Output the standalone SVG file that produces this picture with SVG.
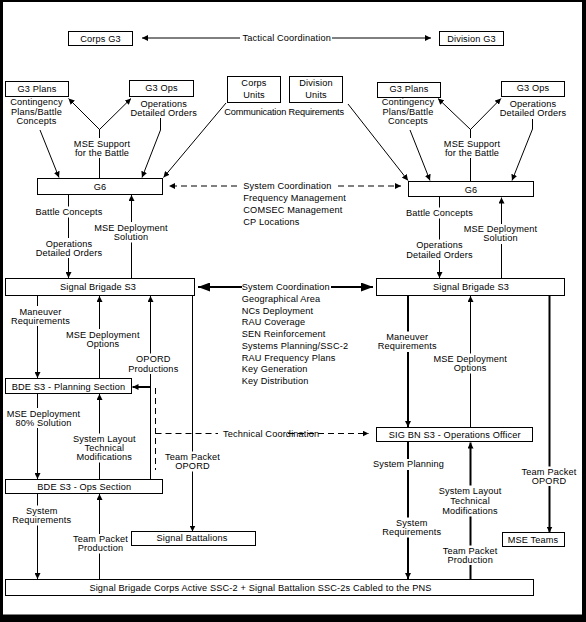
<svg xmlns="http://www.w3.org/2000/svg" width="586" height="622" viewBox="0 0 586 622">
<style>
text{font-family:"Liberation Sans",Arial,Helvetica,sans-serif;font-size:9.2px;letter-spacing:0.15px;fill:#000}
.c{text-anchor:middle}
.n rect{fill:#fff;stroke:#000;stroke-width:1}
.l{stroke:#000;stroke-width:1;fill:none}
.t{stroke-width:2}
.d{stroke-dasharray:6 4}
.w{fill:#fff;stroke:none}
</style>
<defs>
<marker id="a" viewBox="0 0 6 6" markerWidth="6" markerHeight="6" refX="6" refY="3" orient="auto" markerUnits="userSpaceOnUse"><path d="M0,0 L6,3 L0,6 z" fill="#000"/></marker>
<marker id="b" viewBox="0 0 12 9" markerWidth="12" markerHeight="9" refX="12" refY="4.5" orient="auto" markerUnits="userSpaceOnUse"><path d="M0,0 L12,4.5 L0,9 z" fill="#000"/></marker>
</defs>
<rect x="0" y="0" width="586" height="622" fill="#000"/>
<rect x="3" y="2" width="579" height="612.5" fill="#fff"/>

<g id="connectors">
<line class="l" x1="240" y1="38" x2="142" y2="38" marker-end="url(#a)"/>
<line class="l" x1="332" y1="38" x2="431" y2="38" marker-end="url(#a)"/>
<line class="l" x1="40" y1="130" x2="59" y2="177.5" marker-end="url(#a)"/>
<line class="l" x1="99.5" y1="178" x2="99.5" y2="129"/>
<line class="l" x1="99.5" y1="129.5" x2="68.5" y2="98.5" marker-end="url(#a)"/>
<line class="l" x1="99.5" y1="129.5" x2="131" y2="98.5" marker-end="url(#a)"/>
<polyline class="l" points="160.5,118 160.5,130 142,177.5" marker-end="url(#a)"/>
<line class="l" x1="226" y1="103" x2="163.5" y2="177.5" marker-end="url(#a)"/>
<line class="l" x1="348" y1="104" x2="408" y2="180.5" marker-end="url(#a)"/>
<line class="l" x1="410" y1="130" x2="430" y2="180.5" marker-end="url(#a)"/>
<line class="l" x1="470.5" y1="181" x2="470.5" y2="129"/>
<line class="l" x1="470.5" y1="129.5" x2="438" y2="98.5" marker-end="url(#a)"/>
<line class="l" x1="470.5" y1="129.5" x2="501" y2="98.5" marker-end="url(#a)"/>
<polyline class="l" points="532.5,119 532.5,129 512,180.5" marker-end="url(#a)"/>
<line class="l d" x1="237" y1="186" x2="169" y2="186" marker-end="url(#a)"/>
<line class="l d" x1="338" y1="186" x2="401" y2="186" marker-end="url(#a)"/>
<line class="l" x1="68.5" y1="195" x2="68.5" y2="278" marker-end="url(#a)"/>
<line class="l" x1="131.5" y1="278" x2="131.5" y2="195" marker-end="url(#a)"/>
<line class="l" x1="439.5" y1="197" x2="439.5" y2="278" marker-end="url(#a)"/>
<line class="l" x1="501.5" y1="278" x2="501.5" y2="197.5" marker-end="url(#a)"/>
<line class="l t" x1="242" y1="287" x2="198" y2="287" marker-end="url(#b)"/>
<line class="l t" x1="331" y1="287" x2="373" y2="287" marker-end="url(#b)"/>
<line class="l" x1="37.5" y1="296" x2="37.5" y2="378" marker-end="url(#a)"/>
<line class="l" x1="99.5" y1="378" x2="99.5" y2="296" marker-end="url(#a)"/>
<line class="l" x1="150.5" y1="479" x2="150.5" y2="296" marker-end="url(#a)"/>
<line class="l t" x1="150" y1="387" x2="132.5" y2="387" marker-end="url(#a)"/>
<line class="l" x1="192.5" y1="296" x2="192.5" y2="531.5" marker-end="url(#a)"/>
<line class="l d" x1="155.5" y1="388" x2="155.5" y2="470"/>
<line class="l d" x1="155.5" y1="433.5" x2="218" y2="433.5"/>
<line class="l d" x1="288" y1="433.5" x2="368.5" y2="433.5" marker-end="url(#a)"/>
<line class="l" x1="37.5" y1="394" x2="37.5" y2="479" marker-end="url(#a)"/>
<line class="l" x1="99.5" y1="479" x2="99.5" y2="394" marker-end="url(#a)"/>
<line class="l" x1="37.5" y1="494" x2="37.5" y2="579" marker-end="url(#a)"/>
<line class="l" x1="99.5" y1="579" x2="99.5" y2="494" marker-end="url(#a)"/>
<line class="l t" x1="408" y1="296" x2="408" y2="427" marker-end="url(#a)"/>
<line class="l" x1="470.5" y1="427" x2="470.5" y2="296" marker-end="url(#a)"/>
<line class="l t" x1="549.5" y1="296" x2="549.5" y2="532.5" marker-end="url(#a)"/>
<line class="l t" x1="408" y1="442" x2="408" y2="579" marker-end="url(#a)"/>
<line class="l t" x1="470.5" y1="579" x2="470.5" y2="442.5" marker-end="url(#a)"/>
<!-- gaps where labels sit on lines -->
<rect class="w" x="96" y="138" width="7" height="20"/>
<rect class="w" x="467" y="138" width="7" height="20"/>
<rect class="w" x="65" y="206.5" width="7" height="11"/>
<rect class="w" x="65" y="238" width="7" height="20"/>
<rect class="w" x="128" y="222" width="7" height="20.5"/>
<rect class="w" x="436" y="207.5" width="7" height="11"/>
<rect class="w" x="436" y="239.5" width="7" height="20.5"/>
<rect class="w" x="498" y="224" width="7" height="20"/>
<rect class="w" x="34" y="306" width="7" height="20"/>
<rect class="w" x="96" y="329" width="7" height="20"/>
<rect class="w" x="147" y="353.5" width="7" height="20.5"/>
<rect class="w" x="34" y="408" width="7" height="20"/>
<rect class="w" x="96" y="433.5" width="7" height="29"/>
<rect class="w" x="189" y="451.5" width="7" height="20"/>
<rect class="w" x="34" y="505.5" width="7" height="20"/>
<rect class="w" x="96" y="534" width="7" height="19.5"/>
<rect class="w" x="404" y="331.5" width="8" height="20.5"/>
<rect class="w" x="467" y="353.5" width="7" height="20"/>
<rect class="w" x="404" y="459" width="8" height="11"/>
<rect class="w" x="545.5" y="466.5" width="8" height="19.5"/>
<rect class="w" x="466.5" y="485.5" width="8" height="31"/>
<rect class="w" x="404" y="517.5" width="8" height="20"/>
<rect class="w" x="466.5" y="545.5" width="8" height="19.5"/>
</g>

<g id="labels">
<text x="242.5" y="41.3">Tactical Coordination</text>
<text class="c" x="36.5" y="105">Contingency</text>
<text class="c" x="36.5" y="114.5">Plans/Battle</text>
<text class="c" x="36.5" y="124">Concepts</text>
<text class="c" x="408" y="105">Contingency</text>
<text class="c" x="408" y="114.5">Plans/Battle</text>
<text class="c" x="408" y="124">Concepts</text>
<text class="c" x="163.7" y="106.8">Operations</text>
<text class="c" x="163.7" y="116">Detailed Orders</text>
<text class="c" x="533" y="107.4">Operations</text>
<text class="c" x="533" y="116.4">Detailed Orders</text>
<text x="224.3" y="115" style="letter-spacing:-0.15px">Communication Requirements</text>
<text class="c" x="102" y="146.7">MSE Support</text>
<text class="c" x="102" y="155.7">for the Battle</text>
<text class="c" x="472" y="146.7">MSE Support</text>
<text class="c" x="472" y="155.7">for the Battle</text>
<text x="243.3" y="189">System Coordination</text>
<text x="243.3" y="200.8">Frequency Management</text>
<text x="243.3" y="212.8">COMSEC Management</text>
<text x="243.3" y="225">CP Locations</text>
<text class="c" x="69" y="215">Battle Concepts</text>
<text class="c" x="69" y="246.7">Operations</text>
<text class="c" x="69" y="255.7">Detailed Orders</text>
<text class="c" x="131" y="230.7">MSE Deployment</text>
<text class="c" x="131" y="240">Solution</text>
<text class="c" x="439.5" y="216">Battle Concepts</text>
<text class="c" x="439.5" y="248.4">Operations</text>
<text class="c" x="439.5" y="257.7">Detailed Orders</text>
<text class="c" x="500.5" y="232.2">MSE Deployment</text>
<text class="c" x="500.5" y="241.2">Solution</text>
<text x="241.7" y="290">System Coordination</text>
<text x="241.7" y="301.75">Geographical Area</text>
<text x="241.7" y="313.5">NCs Deployment</text>
<text x="241.7" y="325.25">RAU Coverage</text>
<text x="241.7" y="337">SEN Reinforcement</text>
<text x="241.7" y="348.75">Systems Planning/SSC-2</text>
<text x="241.7" y="360.5">RAU Frequency Plans</text>
<text x="241.7" y="372.25">Key Generation</text>
<text x="241.7" y="384">Key Distribution</text>
<text class="c" x="40.5" y="314.8">Maneuver</text>
<text class="c" x="40.5" y="323.5">Requirements</text>
<text class="c" x="102.8" y="337.7">MSE Deployment</text>
<text class="c" x="102.8" y="346.7">Options</text>
<text class="c" x="153.3" y="362.2">OPORD</text>
<text class="c" x="153.3" y="371.5">Productions</text>
<text class="c" x="43.5" y="416.5">MSE Deployment</text>
<text class="c" x="43.5" y="425.5">80% Solution</text>
<text class="c" x="104.3" y="442">System Layout</text>
<text class="c" x="104.3" y="451">Technical</text>
<text class="c" x="104.3" y="460">Modifications</text>
<text x="223" y="436.8">Technical Coordination</text>
<text class="c" x="192.5" y="460">Team Packet</text>
<text class="c" x="192.5" y="469">OPORD</text>
<text class="c" x="41.8" y="514">System</text>
<text class="c" x="41.8" y="523">Requirements</text>
<text class="c" x="100.5" y="542.4">Team Packet</text>
<text class="c" x="100.5" y="551">Production</text>
<text class="c" x="407.2" y="340">Maneuver</text>
<text class="c" x="407.2" y="349.4">Requirements</text>
<text class="c" x="470.2" y="362">MSE Deployment</text>
<text class="c" x="470.2" y="371.2">Options</text>
<text class="c" x="408.5" y="467.4">System Planning</text>
<text class="c" x="549" y="475">Team Packet</text>
<text class="c" x="549" y="483.6">OPORD</text>
<text class="c" x="470" y="494">System Layout</text>
<text class="c" x="470" y="504">Technical</text>
<text class="c" x="470" y="514">Modifications</text>
<text class="c" x="411.8" y="526">System</text>
<text class="c" x="411.8" y="535">Requirements</text>
<text class="c" x="470.2" y="554">Team Packet</text>
<text class="c" x="470.2" y="562.6">Production</text>
</g>

<g id="corps-g3" class="n"><rect x="68.5" y="31.5" width="64" height="14"/><text class="c" x="100.5" y="41.7">Corps G3</text></g>
<g id="division-g3" class="n"><rect x="439.5" y="31.5" width="64" height="14"/><text class="c" x="471.5" y="41.7">Division G3</text></g>
<g id="g3-plans-left" class="n"><rect x="5.5" y="81.5" width="63" height="15"/><text class="c" x="37" y="92">G3 Plans</text></g>
<g id="g3-ops-left" class="n"><rect x="129.5" y="80.5" width="64" height="16"/><text class="c" x="161.5" y="91.3">G3 Ops</text></g>
<g id="corps-units" class="n"><rect x="227.5" y="76.5" width="53" height="26"/><text class="c" x="254" y="86">Corps</text><text class="c" x="254" y="98">Units</text></g>
<g id="division-units" class="n"><rect x="289.5" y="76.5" width="53" height="26"/><text class="c" x="316" y="86">Division</text><text class="c" x="316" y="98">Units</text></g>
<g id="g3-plans-right" class="n"><rect x="377.5" y="82.5" width="63" height="15"/><text class="c" x="409" y="92.3">G3 Plans</text></g>
<g id="g3-ops-right" class="n"><rect x="501.5" y="81.5" width="63" height="15"/><text class="c" x="533" y="91.3">G3 Ops</text></g>
<g id="g6-left" class="n"><rect x="37.5" y="178.5" width="125" height="16"/><text class="c" x="100" y="189.6">G6</text></g>
<g id="g6-right" class="n"><rect x="408.5" y="181.5" width="125" height="15"/><text class="c" x="471" y="192.5">G6</text></g>
<g id="signal-brigade-s3-left" class="n"><rect x="5.5" y="278.5" width="189" height="17"/><text class="c" x="98" y="290.2">Signal Brigade S3</text></g>
<g id="signal-brigade-s3-right" class="n"><rect x="376.5" y="278.5" width="188" height="17"/><text class="c" x="471" y="290.2">Signal Brigade S3</text></g>
<g id="bde-s3-planning" class="n"><rect x="5.5" y="378.5" width="126" height="15"/><text class="c" x="68.5" y="389.5">BDE S3 - Planning Section</text></g>
<g id="bde-s3-ops" class="n"><rect x="5.5" y="479.5" width="157" height="14"/><text class="c" x="84.3" y="489.5">BDE S3 - Ops Section</text></g>
<g id="signal-battalions" class="n"><rect x="131.5" y="531.5" width="124" height="14"/><text class="c" x="192" y="541.3">Signal Battalions</text></g>
<g id="sig-bn-s3" class="n"><rect x="376.5" y="427.5" width="156" height="14"/><text class="c" x="454.7" y="437.7">SIG BN S3 - Operations Officer</text></g>
<g id="mse-teams" class="n"><rect x="502.5" y="532.5" width="62" height="14"/><text class="c" x="533" y="543.3">MSE Teams</text></g>
<g id="signal-brigade-corps" class="n"><rect x="5.5" y="579.5" width="528" height="16"/><text class="c" x="260.5" y="590.8">Signal Brigade Corps Active SSC-2 + Signal Battalion SSC-2s Cabled to the PNS</text></g>
</svg>
